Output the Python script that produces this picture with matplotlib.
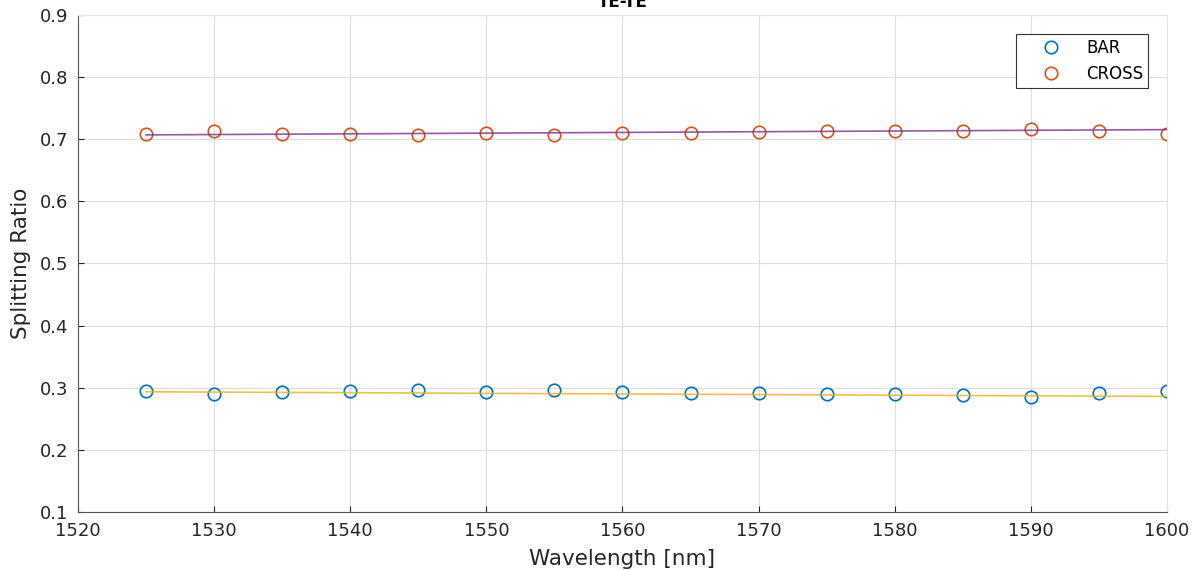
import numpy as np
import matplotlib.pyplot as plt

# 波长和分光比数据
wavelength = [1525, 1530, 1535, 1540, 1545, 1550, 1555, 1560,
              1565, 1570, 1575, 1580, 1585, 1590, 1595, 1600]
bar_ratio = [0.2945, 0.2897, 0.2934, 0.2945, 0.2956, 0.2930, 0.2960, 0.2930,
             0.2920, 0.2918, 0.2897, 0.2897, 0.2880, 0.2853, 0.2908, 0.2950]
cross_ratio = [0.708, 0.713, 0.708, 0.708, 0.707, 0.710, 0.707, 0.710,
               0.710, 0.711, 0.714, 0.713, 0.714, 0.717, 0.713, 0.708]

# 拟合直线（端点读自原图）
fit_wavelength = [1525, 1600]
bar_fit = [0.2935, 0.2860]
cross_fit = [0.7070, 0.7155]

blue = (0, 0.447, 0.741)
orange = (0.85, 0.325, 0.098)
yellow = (0.929, 0.694, 0.125)
purple = (0.494, 0.184, 0.556)

fig = plt.figure(figsize=(11.92, 5.70), dpi=100)
ax = fig.add_axes([0.0654, 0.1018, 0.9136, 0.8719])

ax.plot(wavelength, bar_ratio, 'o', mfc='none', mec=blue, ms=9, mew=1.2, label='BAR')
ax.plot(wavelength, cross_ratio, 'o', mfc='none', mec=orange, ms=9, mew=1.2, label='CROSS')
ax.plot(fit_wavelength, bar_fit, color=yellow, lw=1.2, alpha=0.8)
ax.plot(fit_wavelength, cross_fit, color=purple, lw=1.2, alpha=0.8)

ax.set_xlim(1520, 1600)
ax.set_ylim(0.1, 0.9)
ax.set_xticks(np.arange(1520, 1601, 10))
ax.set_yticks(np.arange(0.1, 0.91, 0.1))
ax.set_yticklabels([f'{v:.1f}' for v in np.arange(0.1, 0.91, 0.1)])

ax.grid(True, color='#dedede', lw=0.8)
ax.set_axisbelow(True)
ax.tick_params(direction='in', labelsize=13, colors='#262626', length=4, pad=7)
for s in ['left', 'bottom']:
    ax.spines[s].set_color('#555555')
for s in ['top', 'right']:
    ax.spines[s].set_color('#e6e6e6')

ax.set_xlabel('Wavelength [nm]', fontsize=15.5, color='#262626', labelpad=7)
ax.set_ylabel('Splitting Ratio', fontsize=15.5, color='#262626', labelpad=6)
ax.set_title('TE-TE', fontsize=12, fontweight='bold', pad=6)

leg = ax.legend(loc='upper right', bbox_to_anchor=(0.9826, 0.9618), fontsize=12,
                fancybox=False, edgecolor='#333333', framealpha=1, borderaxespad=0,
                handletextpad=0.3, borderpad=0.3, handlelength=3.6)
leg.get_frame().set_linewidth(0.8)

plt.savefig('out.png', dpi=100)
